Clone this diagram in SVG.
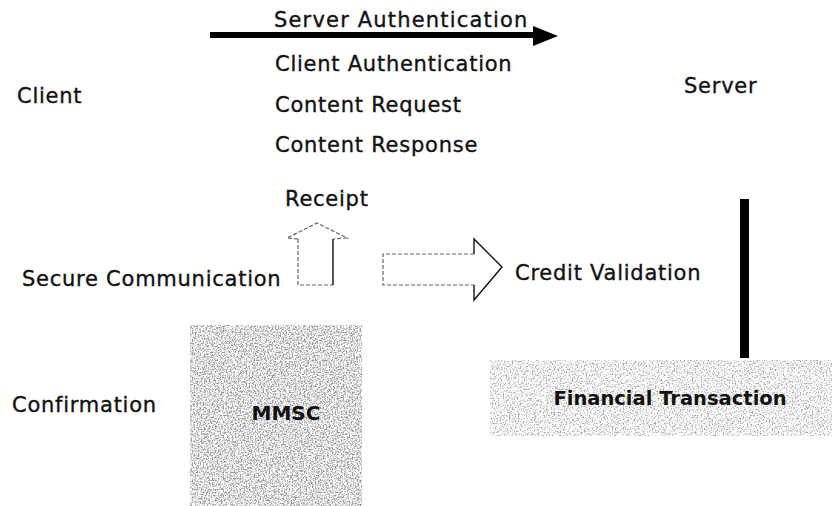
<svg xmlns="http://www.w3.org/2000/svg" width="832" height="506" viewBox="0 0 832 506">
  <style>
    .t { font-family: "DejaVu Sans", Verdana, sans-serif; font-size: 21px; fill: #111; stroke: #111; stroke-width: 0.35px; letter-spacing: 0.75px; }
    .b { font-family: "DejaVu Sans", Verdana, sans-serif; font-weight: bold; fill: #111; }
    .solid { fill: none; stroke: #111; stroke-width: 1.4; }
    .dash { fill: none; stroke: #666; stroke-width: 1.2; stroke-dasharray: 4 2; }
  </style>
  <defs>
    <filter id="noiseDark" x="0" y="0" width="100%" height="100%" filterUnits="objectBoundingBox">
      <feTurbulence type="fractalNoise" baseFrequency="0.65" numOctaves="2" seed="4" result="n"/>
      <feColorMatrix in="n" type="matrix" values="0 0 0 0 0.3  0 0 0 0 0.3  0 0 0 0 0.3  3.4 0 0 0 -1.4"/>
    </filter>
    <filter id="noiseLight" x="0" y="0" width="100%" height="100%" filterUnits="objectBoundingBox">
      <feTurbulence type="fractalNoise" baseFrequency="0.65" numOctaves="2" seed="9" result="n"/>
      <feColorMatrix in="n" type="matrix" values="0 0 0 0 0.35  0 0 0 0 0.35  0 0 0 0 0.35  3.4 0 0 0 -1.6"/>
    </filter>
  </defs>
  <rect width="832" height="506" fill="#fff"/>

  <g id="connectors">
    <g id="auth-arrow">
      <rect x="210" y="32" width="325" height="6" fill="#000"/>
      <polygon points="533,26 558,36 533,46" fill="#000"/>
    </g>
    <g id="receipt-arrow">
      <path class="dash" d="M298,239 L298,285 L333,285"/>
      <path class="solid" d="M333,239 L333,285"/>
      <path class="dash" d="M298,239 L287,238 L317,223 L347,238 L333,239" stroke="#222"/>
    </g>
    <g id="credit-arrow">
      <path class="dash" d="M474,254 L383,254 L383,285 L474,285"/>
      <path class="solid" d="M474,254 L474,239 L502,267 L474,300 L474,285"/>
    </g>
    <rect id="server-link" x="740" y="199" width="9" height="159" fill="#000"/>
  </g>

  <g id="labels">
    <text class="t" x="274" y="27" textLength="254">Server Authentication</text>
    <text class="t" x="275" y="71">Client Authentication</text>
    <text class="t" x="275" y="112">Content Request</text>
    <text class="t" x="275" y="152">Content Response</text>
  </g>

  <g id="client"><text class="t" x="17" y="103">Client</text></g>
  <g id="server"><text class="t" x="684" y="93">Server</text></g>
  <g id="receipt"><text class="t" x="285" y="206">Receipt</text></g>
  <g id="secure-communication"><text class="t" x="22" y="286">Secure Communication</text></g>
  <g id="credit-validation"><text class="t" x="515" y="280">Credit Validation</text></g>
  <g id="confirmation"><text class="t" x="12" y="412">Confirmation</text></g>

  <g id="mmsc">
    <rect x="190" y="325" width="172" height="181" fill="#888" filter="url(#noiseDark)"/>
    <text class="b" x="286" y="420" font-size="20" text-anchor="middle">MMSC</text>
  </g>

  <g id="financial-transaction">
    <rect x="490" y="360" width="342" height="76" fill="#888" filter="url(#noiseLight)"/>
    <text class="b" x="670" y="405" font-size="19.5" text-anchor="middle">Financial Transaction</text>
  </g>
</svg>
